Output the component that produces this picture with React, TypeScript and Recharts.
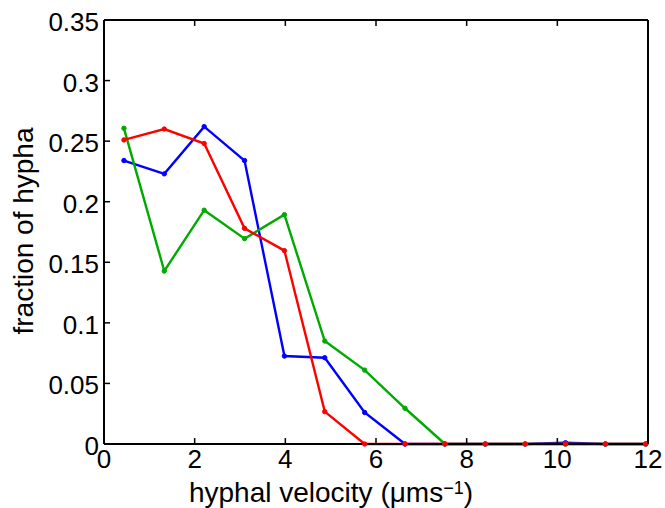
import React from 'react';
import { LineChart, Line, XAxis, YAxis } from 'recharts';

// bin centres of the velocity histogram
const velocity = [0.44, 1.33, 2.21, 3.1, 3.98, 4.87, 5.75, 6.64, 7.52, 8.41, 9.29, 10.18, 11.06, 11.95];

const blueSeries = [0.234, 0.223, 0.262, 0.234, 0.0726, 0.0712, 0.026, 0, 0, 0, 0, 0.001, 0, 0];
const greenSeries = [0.2606, 0.1428, 0.193, 0.1695, 0.1893, 0.085, 0.061, 0.0295, 0, 0, 0, 0, 0, 0];
const redSeries = [0.251, 0.26, 0.248, 0.178, 0.1596, 0.0267, 0, 0, 0, 0, 0, 0, 0, 0];

const xTicks = [0, 2, 4, 6, 8, 10, 12];
const yTicks = [0, 0.05, 0.1, 0.15, 0.2, 0.25, 0.3, 0.35];
const yTickLabels = ['0', '0.05', '0.1', '0.15', '0.2', '0.25', '0.3', '0.35'];

const data = velocity.map((v, i) => ({
  v,
  blue: blueSeries[i],
  green: greenSeries[i],
  red: redSeries[i],
}));

const FONT = 'Liberation Sans, Arial, Helvetica, sans-serif';
const TICK_FONT = 26;
const LABEL_FONT = 28;
const TICK_LEN = 6;
const GAP = 5;

// matlab-style ticks: drawn inward from the box edge
const LeftTick = (props: any) => {
  const { x, y, payload } = props;
  const edge = x + GAP;
  return (
    <g>
      <line x1={edge} x2={edge + TICK_LEN} y1={y} y2={y} stroke="#000" strokeWidth={1.5} />
      <text x={x} y={y} dy={11} textAnchor="end" fontSize={TICK_FONT} fontFamily={FONT} fill="#000">
        {yTickLabels[yTicks.indexOf(payload.value)] ?? payload.value}
      </text>
    </g>
  );
};

const BottomTick = (props: any) => {
  const { x, y, payload } = props;
  const edge = y - GAP;
  return (
    <g>
      <line x1={x} x2={x} y1={edge} y2={edge - TICK_LEN} stroke="#000" strokeWidth={1.5} />
      <text x={x} y={y} dy={19} textAnchor="middle" fontSize={TICK_FONT} fontFamily={FONT} fill="#000">
        {payload.value}
      </text>
    </g>
  );
};

const TopTick = (props: any) => {
  const { x, y } = props;
  return <line x1={x} x2={x} y1={y} y2={y + TICK_LEN} stroke="#000" strokeWidth={1.5} />;
};

const RightTick = (props: any) => {
  const { x, y } = props;
  return <line x1={x} x2={x - TICK_LEN} y1={y} y2={y} stroke="#000" strokeWidth={1.5} />;
};

const XLabel = () => (
  <text x={331} y={502} textAnchor="middle" fontSize={LABEL_FONT} fontFamily={FONT} fill="#000">
    hyphal velocity (μms
    <tspan dy={-8} fontSize={18}>−1</tspan>
    <tspan dy={8}>)</tspan>
  </text>
);

const YLabel = () => (
  <text
    x={0}
    y={0}
    transform="translate(33, 231) rotate(-90)"
    textAnchor="middle"
    fontSize={LABEL_FONT}
    fontFamily={FONT}
    fill="#000"
  >
    fraction of hypha
  </text>
);

const axisLine = { stroke: '#000', strokeWidth: 2 };

const App: React.FC = () => {
  return (
    <div style={{ position: 'absolute', left: 0, top: 0, background: '#fff' }}>
      <LineChart
        width={665}
        height={508}
        data={data}
        margin={{ top: 19, right: 16, bottom: 0, left: 0 }}
      >
        <XAxis
          xAxisId="bottom"
          dataKey="v"
          type="number"
          domain={[0, 12]}
          ticks={xTicks}
          interval={0}
          height={64}
          tickSize={0}
          tickMargin={GAP}
          tick={<BottomTick />}
          tickLine={false}
          axisLine={axisLine}
          label={<XLabel />}
        />
        <XAxis
          xAxisId="top"
          orientation="top"
          dataKey="v"
          type="number"
          domain={[0, 12]}
          ticks={xTicks}
          interval={0}
          height={1}
          tickSize={0}
          tickMargin={0}
          tick={<TopTick />}
          tickLine={false}
          axisLine={axisLine}
        />
        <YAxis
          yAxisId="left"
          type="number"
          domain={[0, 0.35]}
          ticks={yTicks}
          interval={0}
          width={104}
          tickSize={0}
          tickMargin={GAP}
          tick={<LeftTick />}
          tickLine={false}
          axisLine={axisLine}
          label={<YLabel />}
        />
        <YAxis
          yAxisId="right"
          orientation="right"
          type="number"
          domain={[0, 0.35]}
          ticks={yTicks}
          interval={0}
          width={1}
          tickSize={0}
          tickMargin={0}
          tick={<RightTick />}
          tickLine={false}
          axisLine={axisLine}
        />
        <Line
          xAxisId="bottom"
          yAxisId="left"
          dataKey="blue"
          stroke="#0000ff"
          strokeWidth={2.4}
          dot={{ r: 2.2, fill: '#0000ff', stroke: '#0000ff', strokeWidth: 1 }}
          isAnimationActive={false}
        />
        <Line
          xAxisId="bottom"
          yAxisId="left"
          dataKey="green"
          stroke="#00aa00"
          strokeWidth={2.4}
          dot={{ r: 2.2, fill: '#00aa00', stroke: '#00aa00', strokeWidth: 1 }}
          isAnimationActive={false}
        />
        <Line
          xAxisId="bottom"
          yAxisId="left"
          dataKey="red"
          stroke="#ff0000"
          strokeWidth={2.4}
          dot={{ r: 2.2, fill: '#ff0000', stroke: '#ff0000', strokeWidth: 1 }}
          isAnimationActive={false}
        />
      </LineChart>
    </div>
  );
};

export default App;
